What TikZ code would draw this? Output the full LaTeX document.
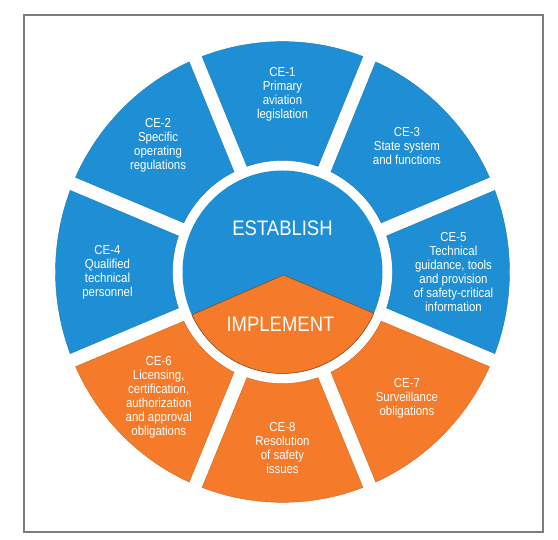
\documentclass[tikz,border=0pt]{standalone}
\usepackage{fontspec}
\setmainfont{Liberation Sans}[FakeStretch=0.88]
\definecolor{cblue}{RGB}{31,143,213}
\definecolor{corange}{RGB}{245,122,42}
\definecolor{framegray}{RGB}{125,125,125}
\begin{document}
\begin{tikzpicture}[x=1pt,y=1pt,
  lbl/.style={text=white, align=center, font=\fontsize{13}{14}\selectfont, inner sep=0pt},
  big/.style={text=white, font=\fontsize{21}{24}\selectfont, inner sep=0pt},
  segshape/.style={line width=0.4pt}]
\useasboundingbox (0,0) rectangle (558,540);
\draw[framegray, line width=1.3pt] (24,8) rectangle (543,525);
\begin{scope}[shift={(282.5,268)}, yscale=1.015]
  \foreach \t/\c in {90/cblue,135/cblue,45/cblue,180/cblue,0/cblue,225/corange,315/corange,270/corange}{
    \filldraw[segshape, fill=\c, draw=\c!85!black]
      (\t-18.85:110) -- (\t-20.74:227)
      arc[start angle=\t-20.74, end angle=\t+20.74, radius=227]
      -- (\t+18.85:110)
      arc[start angle=\t+18.85, end angle=\t-18.85, radius=110] -- cycle;
  }
  \fill[cblue] (0,0) circle[radius=100];
  \filldraw[fill=corange, draw=corange!55!black, line width=0.5pt]
    (205:100) -- (1,-3) -- (-24:100)
    arc[start angle=-24, end angle=-155, radius=100] -- cycle;
  \node[big] (est) at (0,43) {ESTABLISH};
  \node[big] (imp) at (-2,-52) {IMPLEMENT};
  \node[lbl] (ce1) at (90:175) {CE-1\\Primary\\aviation\\legislation};
  \node[lbl] (ce2) at (135:176) {CE-2\\Specific\\operating\\regulations};
  \node[lbl] (ce3) at (45:176) {CE-3\\State system\\and functions};
  \node[lbl] (ce4) at (180:175) {CE-4\\Qualified\\technical\\personnel};
  \node[lbl] (ce5) at (0:171) {CE-5\\Technical\\guidance, tools\\and provision\\of safety-critical\\information};
  \node[lbl] (ce6) at (225:175) {CE-6\\Licensing,\\certification,\\authorization\\and approval\\obligations};
  \node[lbl] (ce7) at (315:176) {CE-7\\Surveillance\\obligations};
  \node[lbl] (ce8) at (270:173) {CE-8\\Resolution\\of safety\\issues};
\end{scope}
\end{tikzpicture}
\end{document}
